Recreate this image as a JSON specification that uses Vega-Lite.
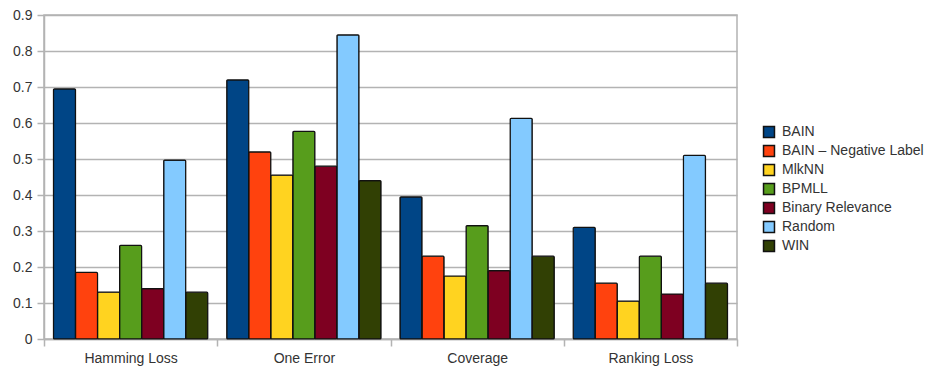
{
  "$schema": "https://vega.github.io/schema/vega-lite/v6.json",
  "width": 693,
  "height": 324,
  "autosize": {"type": "none"},
  "padding": {"left": 44, "top": 15, "right": 191, "bottom": 30},
  "background": "white",
  "config": {
    "font": "Liberation Sans",
    "view": {"stroke": "#b3b3b3", "strokeWidth": 1.5},
    "axis": {
      "labelFont": "Liberation Sans",
      "labelFontSize": 14,
      "labelColor": "#333333",
      "domainColor": "#b3b3b3",
      "domainWidth": 1.5,
      "tickColor": "#b3b3b3",
      "tickWidth": 1.5,
      "tickSize": 7,
      "gridColor": "#b3b3b3",
      "gridWidth": 1.5,
      "title": null
    },
    "legend": {
      "labelFont": "Liberation Sans",
      "labelFontSize": 14,
      "labelColor": "#333333"
    }
  },
  "data": {
    "values": [
      {"metric": "Hamming Loss", "method": "BAIN", "value": 0.695},
      {"metric": "Hamming Loss", "method": "BAIN – Negative Label", "value": 0.185},
      {"metric": "Hamming Loss", "method": "MlkNN", "value": 0.13},
      {"metric": "Hamming Loss", "method": "BPMLL", "value": 0.26},
      {"metric": "Hamming Loss", "method": "Binary Relevance", "value": 0.14},
      {"metric": "Hamming Loss", "method": "Random", "value": 0.497},
      {"metric": "Hamming Loss", "method": "WIN", "value": 0.13},
      {"metric": "One Error", "method": "BAIN", "value": 0.72},
      {"metric": "One Error", "method": "BAIN – Negative Label", "value": 0.52},
      {"metric": "One Error", "method": "MlkNN", "value": 0.455},
      {"metric": "One Error", "method": "BPMLL", "value": 0.577},
      {"metric": "One Error", "method": "Binary Relevance", "value": 0.48},
      {"metric": "One Error", "method": "Random", "value": 0.845},
      {"metric": "One Error", "method": "WIN", "value": 0.44},
      {"metric": "Coverage", "method": "BAIN", "value": 0.395},
      {"metric": "Coverage", "method": "BAIN – Negative Label", "value": 0.23},
      {"metric": "Coverage", "method": "MlkNN", "value": 0.175},
      {"metric": "Coverage", "method": "BPMLL", "value": 0.315},
      {"metric": "Coverage", "method": "Binary Relevance", "value": 0.19},
      {"metric": "Coverage", "method": "Random", "value": 0.613},
      {"metric": "Coverage", "method": "WIN", "value": 0.23},
      {"metric": "Ranking Loss", "method": "BAIN", "value": 0.31},
      {"metric": "Ranking Loss", "method": "BAIN – Negative Label", "value": 0.155},
      {"metric": "Ranking Loss", "method": "MlkNN", "value": 0.105},
      {"metric": "Ranking Loss", "method": "BPMLL", "value": 0.23},
      {"metric": "Ranking Loss", "method": "Binary Relevance", "value": 0.125},
      {"metric": "Ranking Loss", "method": "Random", "value": 0.51},
      {"metric": "Ranking Loss", "method": "WIN", "value": 0.155}
    ]
  },
  "mark": {"type": "bar", "stroke": "#111111", "strokeWidth": 1.2, "cornerRadius": 1},
  "encoding": {
    "x": {
      "field": "metric",
      "type": "nominal",
      "sort": ["Hamming Loss", "One Error", "Coverage", "Ranking Loss"],
      "scale": {"paddingInner": 0, "paddingOuter": 0},
      "axis": {"labelAngle": 0, "tickBand": "extent", "labelPadding": 5, "domain": true}
    },
    "xOffset": {
      "field": "method",
      "type": "nominal",
      "sort": ["BAIN", "BAIN – Negative Label", "MlkNN", "BPMLL", "Binary Relevance", "Random", "WIN"],
      "scale": {"paddingInner": 0, "paddingOuter": 0.43}
    },
    "y": {
      "field": "value",
      "type": "quantitative",
      "scale": {"domain": [0, 0.9]},
      "axis": {"values": [0, 0.1, 0.2, 0.3, 0.4, 0.5, 0.6, 0.7, 0.8, 0.9], "format": "~g", "labelPadding": 5}
    },
    "color": {
      "field": "method",
      "type": "nominal",
      "sort": ["BAIN", "BAIN – Negative Label", "MlkNN", "BPMLL", "Binary Relevance", "Random", "WIN"],
      "scale": {
        "domain": ["BAIN", "BAIN – Negative Label", "MlkNN", "BPMLL", "Binary Relevance", "Random", "WIN"],
        "range": ["#004586", "#ff420e", "#ffd320", "#579d1c", "#7e0021", "#83caff", "#314004"]
      },
      "legend": {
        "title": null,
        "orient": "none",
        "legendX": 718,
        "legendY": 110,
        "symbolType": "square",
        "symbolSize": 120,
        "symbolStrokeColor": "#111111",
        "symbolStrokeWidth": 1.5,
        "rowPadding": 1,
        "labelOffset": 6
      }
    }
  }
}
